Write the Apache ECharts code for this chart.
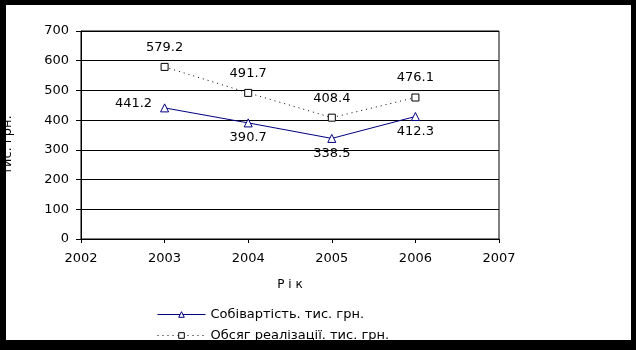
<!DOCTYPE html>
<html>
<head>
<meta charset="utf-8">
<script src="https://cdn.jsdelivr.net/npm/echarts@6/dist/echarts.min.js"></script>
<style>html,body{margin:0;padding:0;background:#000;}#c{width:636px;height:350px;}</style>
</head>
<body>
<div id="c"></div>
<script>
const years = [2003, 2004, 2005, 2006];
const costValues = [441.2, 390.7, 338.5, 412.3];
const salesValues = [579.2, 491.7, 408.4, 476.1];
const costName = 'Собівартість. тис. грн.';
const salesName = 'Обсяг реалізації. тис. грн.';
const xTitle = 'Р і к';
const yTitle = 'тис. грн.';

const FONT = 'DejaVu Sans';
const chart = echarts.init(document.getElementById('c'), null, {renderer: 'canvas'});

const costData = years.map((y, i) => {
  const item = {value: [y, costValues[i]]};
  if (i === 0) item.label = {position: 'left', distance: 8, offset: [0, -4]};
  return item;
});
const salesData = years.map((y, i) => ({value: [y, salesValues[i]]}));

chart.setOption({
  backgroundColor: '#000',
  animation: false,
  graphic: [{
    type: 'rect', z: -10, silent: true,
    shape: {x: 6, y: 5, width: 625, height: 335},
    style: {fill: '#fff'}
  }],
  grid: {left: 81, right: 137, top: 31, bottom: 111, containLabel: false, outerBoundsMode: 'none',
    show: true, borderColor: '#000', borderWidth: 1, backgroundColor: 'transparent'},
  xAxis: {
    type: 'value', min: 2002, max: 2007, interval: 1,
    name: xTitle, nameLocation: 'middle', nameGap: 40,
    nameTextStyle: {fontFamily: FONT, fontSize: 12, color: '#000'},
    axisLine: {show: true, lineStyle: {color: '#000', width: 1}},
    axisTick: {show: true, length: 4, lineStyle: {color: '#000'}},
    axisLabel: {fontFamily: FONT, fontSize: 13, color: '#000', margin: 13, formatter: v => String(v)},
    splitLine: {show: false}
  },
  yAxis: {
    type: 'value', min: 0, max: 700, interval: 100,
    name: yTitle, nameLocation: 'middle', nameGap: 67, nameRotate: 90,
    nameTextStyle: {fontFamily: FONT, fontSize: 13, color: '#000', padding: [0, 20, 0, 0]},
    axisLine: {show: true, lineStyle: {color: '#000', width: 1}},
    axisTick: {show: true, length: 5, lineStyle: {color: '#000'}},
    axisLabel: {fontFamily: FONT, fontSize: 13, color: '#000', margin: 12},
    splitLine: {show: true, lineStyle: {color: '#000', width: 1}}
  },
  legend: {
    orient: 'vertical', left: 152, top: 303, itemWidth: 48, itemHeight: 7, itemGap: 8,
    textStyle: {fontFamily: FONT, fontSize: 13, color: '#000'},
    lineStyle: {width: 1},
    data: [
      {name: costName, itemStyle: {color: '#fff', borderColor: '#000080', borderWidth: 1}},
      {name: salesName, itemStyle: {color: '#fff', borderColor: '#000', borderWidth: 1}}
    ]
  },
  series: [
    {
      name: costName, type: 'line', data: costData,
      symbol: 'triangle', symbolSize: 8,
      itemStyle: {color: '#fff', borderColor: '#000080', borderWidth: 1},
      lineStyle: {color: '#000080', width: 1},
      label: {show: true, position: 'bottom', distance: 4, fontFamily: FONT, fontSize: 13, color: '#000',
        formatter: p => p.value[1].toFixed(1)}
    },
    {
      name: salesName, type: 'line', data: salesData,
      symbol: 'rect', symbolSize: 7,
      itemStyle: {color: '#fff', borderColor: '#000', borderWidth: 1},
      lineStyle: {color: '#000', width: 1, type: [1, 4]},
      label: {show: true, position: 'top', distance: 9, fontFamily: FONT, fontSize: 13, color: '#000',
        formatter: p => p.value[1].toFixed(1)}
    }
  ]
});
</script>
</body>
</html>
